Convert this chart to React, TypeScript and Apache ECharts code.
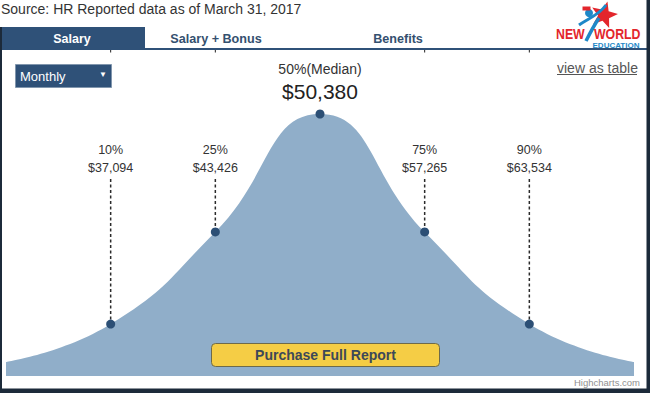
import React, { useEffect, useRef } from 'react';
import * as echarts from 'echarts';

const FONT = 'Arial, "Liberation Sans", Helvetica, sans-serif';

// curve: positions along x and curve heights (relative)
const curveX = [0, 1, 2, 3, 4, 5, 6];
const curveHeights = [0.053, 0.198, 0.55, 1, 0.55, 0.198, 0.053];

// percentile markers
const percentileIndex = [1, 2, 3, 4, 5];
const percentileLabels = ['10%', '25%', '50%(Median)', '75%', '90%'];
const salaryValues = [37094, 43426, 50380, 57265, 63534];

const tabLabels = ['Salary', 'Salary + Bonus', 'Benefits'];
const sourceText = 'Source: HR Reported data as of March 31, 2017';
const periodLabel = 'Monthly';
const tableLink = 'view as table';
const buttonLabel = 'Purchase Full Report';
const creditText = 'Highcharts.com';

const NAVY = '#2f5178';
const FRAME = '#1c2a3a';
const AREA = '#90aec9';
const DOT = '#2c4f75';

function fmt(v: number) {
  return '$' + v.toLocaleString('en-US');
}

function starPoints(cx: number, cy: number, ro: number, ri: number, rot: number) {
  const pts: number[][] = [];
  for (let i = 0; i < 10; i++) {
    const r = i % 2 === 0 ? ro : ri;
    const a = rot + (Math.PI / 5) * i - Math.PI / 2;
    pts.push([cx + r * Math.cos(a), cy + r * Math.sin(a)]);
  }
  return pts;
}

function txt(text: string, x: number, y: number, opts: any = {}) {
  const { scaleX, z, ...style } = opts;
  return {
    type: 'text',
    x,
    y,
    scaleX: scaleX ?? 1,
    z: z ?? 10,
    silent: true,
    style: {
      text,
      fontFamily: FONT,
      fontSize: 12,
      fill: '#333',
      textAlign: 'left',
      align: 'left',
      textVerticalAlign: 'middle',
      verticalAlign: 'middle',
      ...style,
      ...(style.textAlign ? { align: style.textAlign } : {}),
    },
  };
}

export default function App() {
  const ref = useRef<HTMLDivElement>(null);

  useEffect(() => {
    if (!ref.current) return;
    document.body.style.margin = '0';
    const chart = echarts.init(ref.current, undefined, { renderer: 'svg' });

    const tabCenters = [72, 216, 398];

    const graphic: any[] = [
      // frame
      { type: 'rect', silent: true, z: 20, shape: { x: 0, y: 27, width: 2, height: 366 }, style: { fill: FRAME } },
      { type: 'rect', silent: true, z: 20, shape: { x: 646.5, y: 0, width: 3.5, height: 393 }, style: { fill: FRAME } },
      { type: 'rect', silent: true, z: 20, shape: { x: 0, y: 388.5, width: 650, height: 4.5 }, style: { fill: FRAME } },
      // tab bar
      { type: 'rect', silent: true, z: 5, shape: { x: 0, y: 48, width: 647, height: 2 }, style: { fill: NAVY } },
      { type: 'rect', silent: true, z: 5, shape: { x: 0, y: 27, width: 145, height: 23 }, style: { fill: NAVY } },
      txt(sourceText, 1, 8.5, { fontSize: 14, fill: '#333' }),
      ...tabLabels.map((t, i) =>
        txt(t, tabCenters[i], 38.5, {
          fontSize: 13,
          fontWeight: 'bold',
          fill: i === 0 ? '#ffffff' : '#34506f',
          textAlign: 'center',
          scaleX: i === 0 ? 0.96 : 0.97,
        })
      ),
      // dropdown
      { type: 'rect', silent: true, z: 5, shape: { x: 15.5, y: 64.5, width: 96, height: 23 }, style: { fill: NAVY, stroke: '#8196ad', lineWidth: 1 } },
      txt(periodLabel, 20, 76, { fontSize: 13, fill: '#ffffff' }),
      txt('▼', 103, 74.5, { fontSize: 8, fill: '#ffffff', textAlign: 'center' }),
      // view as table
      txt(tableLink, 557, 67.5, { fontSize: 14, fill: '#555' }),
      { type: 'line', silent: true, z: 10, shape: { x1: 557, y1: 74.5, x2: 637, y2: 74.5 }, style: { stroke: '#555', lineWidth: 1 } },
      // button
      { type: 'rect', silent: true, z: 30, shape: { x: 211.5, y: 343.5, width: 228, height: 23, r: 4 }, style: { fill: '#f5cd45', stroke: '#6e6a4a', lineWidth: 1 } },
      txt(buttonLabel, 325.5, 355, { fontSize: 14, fontWeight: 'bold', fill: '#3d4858', textAlign: 'center', z: 31 }),
      // credit
      txt(creditText, 640, 382.5, { fontSize: 9.5, fill: '#909090', textAlign: 'right' }),
      // logo
      { type: 'polygon', silent: true, z: 12, shape: { points: starPoints(604, 15, 14, 6, 0.25) }, style: { fill: '#e3262c' } },
      { type: 'bezierCurve', silent: true, z: 13, shape: { x1: 586, y1: 41, x2: 599, y2: 18, cpx1: 591, cpy1: 31, cpx2: 595, cpy2: 24 }, style: { stroke: '#1e88c8', lineWidth: 3.5, fill: 'none' } },
      { type: 'bezierCurve', silent: true, z: 13, shape: { x1: 579, y1: 25, x2: 606, y2: 5, cpx1: 589, cpy1: 18, cpx2: 599, cpy2: 15 }, style: { stroke: '#1e88c8', lineWidth: 3, fill: 'none' } },
      { type: 'circle', silent: true, z: 14, shape: { cx: 589, cy: 13, r: 4 }, style: { fill: '#1e88c8' } },
      { type: 'rect', silent: true, z: 15, shape: { x: 582.5, y: 6.5, width: 8, height: 4 }, style: { fill: '#e3262c' } },
      txt('NEW', 556, 34.5, { fontSize: 14, fontWeight: 'bold', fill: '#e3262c', z: 16, scaleX: 0.88 }),
      txt('WORLD', 594, 34.5, { fontSize: 14, fontWeight: 'bold', fill: '#e3262c', z: 16, scaleX: 0.88 }),
      txt('EDUCATION', 616, 45.5, { fontSize: 8, fontWeight: 'bold', fill: '#1e88c8', textAlign: 'center', z: 16 }),
    ];

    const option: any = {
      animation: false,
      grid: { left: 6, right: 16, top: 114, bottom: 17 },
      xAxis: { type: 'value', min: 0, max: 6, show: false },
      yAxis: { type: 'value', min: 0, max: 1, show: false },
      tooltip: { show: false },
      graphic,
      series: [
        {
          type: 'line',
          data: curveX.map((x, i) => [x, curveHeights[i]]),
          smooth: 0.5,
          symbol: 'none',
          lineStyle: { width: 0 },
          areaStyle: { color: AREA, opacity: 1 },
          silent: true,
          z: 1,
        },
        {
          type: 'custom',
          clip: false,
          silent: true,
          z: 3,
          data: percentileIndex.map((p, i) => [p, curveHeights[p], i]),
          renderItem: (params: any, api: any) => {
            const i = params.dataIndex;
            const pt = api.coord([api.value(0), api.value(1)]);
            const median = i === 2;
            const children: any[] = [];
            if (!median) {
              children.push({
                type: 'line',
                shape: { x1: pt[0], y1: 179, x2: pt[0], y2: pt[1] },
                style: { stroke: '#2b2b2b', lineWidth: 1.5, lineDash: [3, 2.5] },
              });
              children.push({
                type: 'line',
                shape: { x1: pt[0], y1: 50, x2: pt[0], y2: 52.5 },
                style: { stroke: '#222', lineWidth: 1 },
              });
            }
            children.push({
              type: 'text',
              style: {
                text: percentileLabels[i],
                x: pt[0],
                y: median ? 68.5 : 149.5,
                fontFamily: FONT,
                fontSize: median ? 14 : 12.5,
                fill: '#333',
                textAlign: 'center',
                align: 'center',
                textVerticalAlign: 'middle',
                verticalAlign: 'middle',
              },
            });
            children.push({
              type: 'text',
              style: {
                text: fmt(salaryValues[i]),
                x: pt[0],
                y: median ? 91.5 : 167.5,
                fontFamily: FONT,
                fontSize: median ? 21 : 12.5,
                fill: median ? '#222' : '#333',
                textAlign: 'center',
                align: 'center',
                textVerticalAlign: 'middle',
                verticalAlign: 'middle',
              },
            });
            children.push({
              type: 'circle',
              shape: { cx: pt[0], cy: pt[1], r: 4.5 },
              style: { fill: DOT },
            });
            return { type: 'group', children };
          },
        },
      ],
    };

    chart.setOption(option);
    return () => chart.dispose();
  }, []);

  return (
    <div style={{ position: 'fixed', left: 0, top: 0, width: 650, height: 393, margin: 0, padding: 0 }}>
      <div ref={ref} style={{ width: 650, height: 393, background: '#ffffff' }} />
    </div>
  );
}
